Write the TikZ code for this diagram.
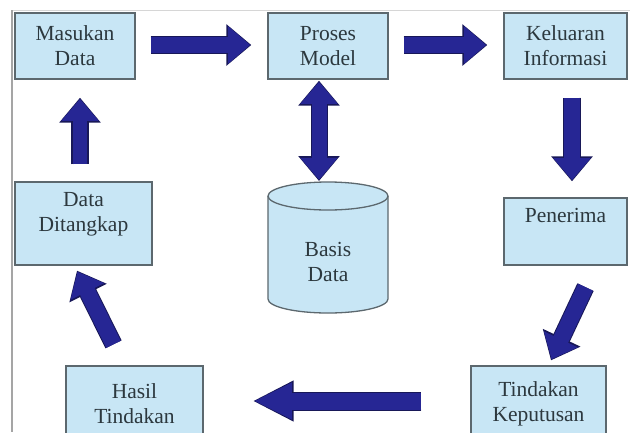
\documentclass[tikz,border=0pt]{standalone}
\usepackage{fontspec}
\setmainfont{Liberation Serif}
\usetikzlibrary{arrows.meta}

\definecolor{boxfill}{RGB}{200,230,245}
\definecolor{boxedge}{RGB}{92,104,110}
\definecolor{boxtext}{RGB}{44,56,62}
\definecolor{arrowfill}{RGB}{38,38,148}
\definecolor{arrowedge}{RGB}{24,24,88}
\definecolor{framegray}{RGB}{165,165,165}

\begin{document}
\begin{tikzpicture}[x=1pt, y=-1pt,
    box/.style={draw=boxedge, line width=1.3pt, fill=boxfill, text=boxtext,
      inner sep=0pt, align=center, font=\fontsize{21.5}{25}\selectfont},
    fhead/.tip={Triangle[length=22pt, width=36pt, sep=1.2pt]},
    ehead/.tip={Triangle[length=25pt, width=40pt]},
    lhead/.tip={Triangle[length=38pt, width=34pt, sep=1.2pt]},
    lehead/.tip={Triangle[length=41pt, width=38pt]},
    flow/.style={draw=arrowfill, line width=16pt, -{fhead},
      preaction={draw=arrowedge, line width=18pt, -{ehead}}},
    flowlong/.style={draw=arrowfill, line width=17pt, -{lhead},
      preaction={draw=arrowedge, line width=19pt, -{lehead}}},
    flowboth/.style={draw=arrowfill, line width=15pt, {fhead}-{fhead},
      preaction={draw=arrowedge, line width=17pt, {ehead}-{ehead}}}]

  % Canvas and frame
  \useasboundingbox (0,0) rectangle (630,432);
  \clip (0,0) rectangle (630,432);
  \fill[white] (0,0) rectangle (630,432);
  \draw[framegray!45, line width=1pt] (12,10) -- (630,10);
  \draw[framegray, line width=2pt] (12,10) -- (12,432);

  % Boxes
  \node[box, minimum width=120pt, minimum height=66pt] (masukan) at (75,46) {Masukan\\Data};
  \node[box, minimum width=120pt, minimum height=66pt] (proses) at (328,46) {Proses\\Model};
  \node[box, minimum width=123pt, minimum height=66pt] (keluaran) at (565.5,46) {Keluaran\\Informasi};
  \node[box, minimum width=137pt, text height=49pt, text depth=34pt, anchor=base] (data) at (83.5,231) {Data\\Ditangkap};
  \node[box, minimum width=123pt, text height=24pt, text depth=43pt, anchor=base] (penerima) at (565.5,222) {Penerima};
  \node[box, minimum width=135pt, minimum height=76pt] (tindakan) at (538.5,404) {Tindakan\\Keputusan};
  \node[box, minimum width=137pt, minimum height=76pt] (hasil) at (134.5,404) {Hasil\\Tindakan};

  % Database cylinder
  \draw[draw=boxedge, line width=1.3pt, fill=boxfill] (268,196) -- (268,299)
    arc[start angle=180, end angle=0, x radius=60, y radius=14] -- (388,196)
    arc[start angle=0, end angle=-180, x radius=60, y radius=14] -- cycle;
  \draw[draw=boxedge, line width=1.3pt] (268,196)
    arc[start angle=180, end angle=0, x radius=60, y radius=14];
  \coordinate (dbtop) at (328,182);
  \node[text=boxtext, align=center, font=\fontsize{21.5}{25}\selectfont] (basis) at (328,262) {Basis\\Data};

  % Flow arrows
  \draw[flow] ([shift={(15,-1)}]masukan.east) -- ([shift={(-16,-1)}]proses.west);
  \draw[flow] ([shift={(15,-1)}]proses.east) -- ([shift={(-16,-1)}]keluaran.west);
  \draw[flow] ([shift={(6.5,18)}]keluaran.south) -- ([shift={(6.5,-16)}]penerima.north);
  \draw[flow] ([shift={(20,21.5)}]penerima.south) -- ([shift={(12.5,-5)}]tindakan.north);
  \draw[flowlong] ([shift={(-49,-3)}]tindakan.west) -- ([shift={(49,-3)}]hasil.east);
  \draw[flow] ([shift={(-21,-21)}]hasil.north) -- ([shift={(-6.5,5)}]data.south);
  \draw[flow, line width=14pt] ([shift={(-3.5,-17)}]data.north) -- ([shift={(5,18)}]masukan.south);
  \draw[flowboth] ([shift={(-9,1)}]proses.south) -- ([shift={(-9,-1)}]dbtop);
\end{tikzpicture}
\end{document}
